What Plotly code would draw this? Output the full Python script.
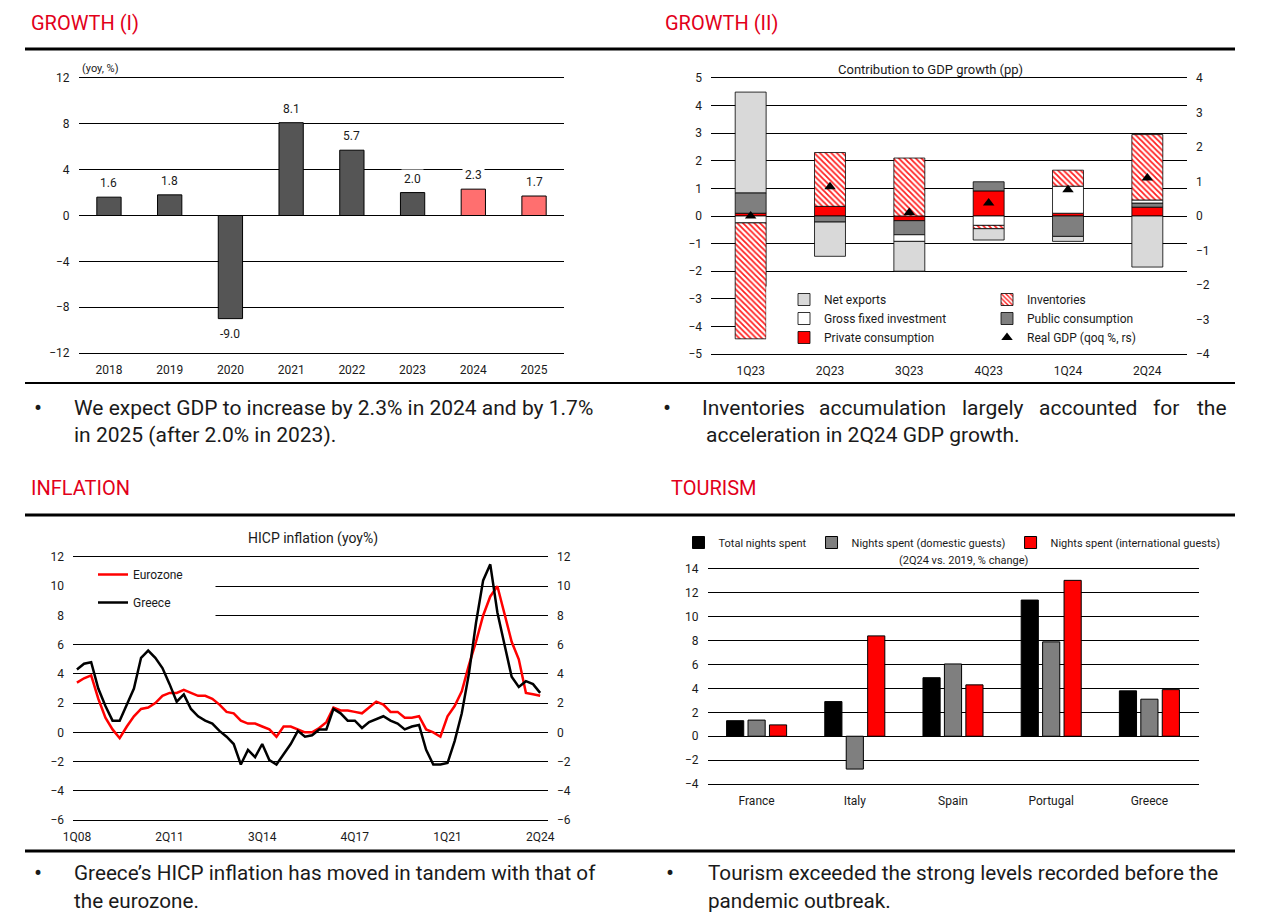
import plotly.graph_objects as go

# ---------------- DATA ----------------
years = ["2018", "2019", "2020", "2021", "2022", "2023", "2024", "2025"]
gdp_growth = [1.6, 1.8, -9.0, 8.1, 5.7, 2.0, 2.3, 1.7]
forecast_years = ["2024", "2025"]

quarters = ["1Q23", "2Q23", "3Q23", "4Q23", "1Q24", "2Q24"]
private_cons = [0.10, 0.35, -0.17, 0.91, 0.10, 0.32]
public_cons = [0.74, -0.22, -0.51, 0.33, -0.74, 0.15]
gross_fixed_inv = [-0.25, None, -0.24, -0.34, 0.98, 0.11]
inventories = [-4.20, 1.95, 2.10, -0.12, 0.58, 2.37]
net_exports = [3.65, -1.24, -1.08, -0.41, -0.18, -1.85]
real_gdp_qoq = [0.0, 0.85, 0.10, 0.38, 0.76, 1.10]

hicp_quarters = [f"{q}Q{yy:02d}" for yy in range(8, 25) for q in range(1, 5)][:66]
hicp_ticks = ["1Q08", "2Q11", "3Q14", "4Q17", "1Q21", "2Q24"]
eurozone_hicp = [3.4, 3.7, 3.9, 2.3, 1.0, 0.2, -0.4, 0.4, 1.1, 1.6,
                 1.7, 2.0, 2.5, 2.7, 2.7, 2.9, 2.7, 2.5, 2.5, 2.3,
                 1.9, 1.4, 1.3, 0.8, 0.6, 0.6, 0.4, 0.2, -0.3, 0.4,
                 0.4, 0.2, 0.0, 0.0, 0.3, 0.7, 1.7, 1.5, 1.5, 1.4,
                 1.3, 1.7, 2.1, 1.9, 1.4, 1.4, 1.0, 1.0, 1.1, 0.2,
                 0.0, -0.3, 1.1, 1.8, 2.8, 4.6, 6.2, 8.0, 9.3, 10.0,
                 8.0, 6.2, 5.0, 2.7, 2.6, 2.5]
greece_hicp = [4.3, 4.7, 4.8, 3.0, 1.8, 0.8, 0.8, 1.9, 3.0, 5.1,
               5.6, 5.1, 4.4, 3.3, 2.1, 2.6, 1.6, 1.1, 0.8, 0.6,
               0.1, -0.3, -0.8, -2.2, -1.2, -1.7, -0.8, -1.9, -2.2, -1.5,
               -0.8, 0.1, -0.3, -0.2, 0.2, 0.2, 1.6, 1.3, 0.8, 0.8,
               0.3, 0.7, 0.9, 1.1, 0.8, 0.6, 0.2, 0.4, 0.5, -1.2,
               -2.2, -2.2, -2.1, -0.6, 1.3, 4.0, 7.5, 10.4, 11.5, 8.2,
               6.0, 3.8, 3.1, 3.5, 3.3, 2.7]

countries = ["France", "Italy", "Spain", "Portugal", "Greece"]
nights_total = [1.3, 2.9, 4.9, 11.4, 3.8]
nights_domestic = [1.35, -2.75, 6.05, 7.9, 3.1]
nights_international = [0.95, 8.4, 4.3, 13.05, 3.9]

# ---------------- HELPERS ----------------
W, H = 1266, 921
FONT = "Roboto, 'Liberation Sans', Arial, sans-serif"
TXT = "#1a1a1a"
HEAD = "#E2001A"


def X(px):
    return px / W


def Y(py):
    return 1 - py / H


def ann(text, px, py, size, color=TXT, xanchor="left", yanchor="middle"):
    return dict(text=text, x=X(px), y=Y(py), xref="paper", yref="paper",
                xanchor=xanchor, yanchor=yanchor, showarrow=False,
                font=dict(size=size, color=color, family=FONT))


fig = go.Figure()

# ---------------- GROWTH (I) ----------------
bar_colors = ["#FF6F6F" if y in forecast_years else "#555555" for y in years]
fig.add_trace(go.Bar(x=years, y=gdp_growth, width=0.4,
                     marker=dict(color=bar_colors, line=dict(color="black", width=1)),
                     showlegend=False, xaxis="x", yaxis="y"))

# ---------------- GROWTH (II) ----------------
components = [
    ("Private consumption", private_cons, dict(color="#FF0000"), "legend2", 3),
    ("Public consumption", public_cons, dict(color="#7F7F7F"), "legend3", 2),
    ("Gross fixed investment", gross_fixed_inv, dict(color="white"), "legend2", 2),
    ("Inventories", inventories,
     dict(color="white", pattern=dict(shape="\\", fgcolor="#FF2020", bgcolor="white",
                                      size=4, solidity=0.45)), "legend3", 1),
    ("Net exports", net_exports, dict(color="#D9D9D9"), "legend2", 1),
]
pos = [0.0] * len(quarters)
neg = [0.0] * len(quarters)
for name, vals, mk, lg, rank in components:
    bases = []
    for i, v in enumerate(vals):
        if v is None:
            bases.append(0.0)
        elif v >= 0:
            bases.append(pos[i])
            pos[i] += v
        else:
            bases.append(neg[i])
            neg[i] += v
    mk = dict(mk)
    mk["line"] = dict(color="black", width=0.8)
    fig.add_trace(go.Bar(x=quarters, y=vals, base=bases, name=name, width=0.39,
                         offsetgroup="contrib", marker=mk, legend=lg, legendrank=rank,
                         xaxis="x2", yaxis="y2"))

fig.add_trace(go.Scatter(x=quarters, y=real_gdp_qoq, mode="markers", name="Real GDP (qoq %, rs)",
                         marker=dict(symbol="triangle-up", size=10, color="black"),
                         legend="legend3", legendrank=3, xaxis="x2", yaxis="y3"))

# ---------------- INFLATION ----------------
fig.add_trace(go.Scatter(x=hicp_quarters, y=eurozone_hicp, mode="lines", name="Eurozone",
                         line=dict(color="#FF0000", width=2.5), legendgroup="ez",
                         legend="legend", xaxis="x3", yaxis="y4"))
fig.add_trace(go.Scatter(x=hicp_quarters, y=greece_hicp, mode="lines", name="Greece",
                         line=dict(color="black", width=2.5), legendgroup="gr",
                         legend="legend", xaxis="x3", yaxis="y4"))
# invisible companion so the right inflation axis renders
fig.add_trace(go.Scatter(x=hicp_quarters, y=greece_hicp, mode="lines", line=dict(width=0),
                         opacity=0, showlegend=False, hoverinfo="skip", xaxis="x3", yaxis="y5"))

# ---------------- TOURISM ----------------
for name, vals, col in [("Total nights spent", nights_total, "#000000"),
                        ("Nights spent (domestic guests)", nights_domestic, "#7F7F7F"),
                        ("Nights spent (international guests)", nights_international, "#FF0000")]:
    fig.add_trace(go.Bar(x=countries, y=vals, name=name,
                         marker=dict(color=col, line=dict(color="black", width=1)),
                         legend="legend4", xaxis="x4", yaxis="y6"))

# ---------------- AXES ----------------
tickf = dict(size=12, color=TXT, family=FONT)
ygrid = dict(showgrid=True, gridcolor="black", gridwidth=1, zeroline=False, showline=False,
             ticks="", tickfont=tickf, ticklabelstandoff=8, fixedrange=True, automargin=False)
# x axes draw the top/bottom boundary lines (the outermost gridlines in the reference)
xcat = dict(type="category", showgrid=False, zeroline=False, showline=True, mirror=True,
            linecolor="black", linewidth=1, ticks="",
            tickfont=tickf, ticklabelstandoff=6, fixedrange=True, automargin=False)
yright = dict(showgrid=False, zeroline=False, showline=False, ticks="", tickfont=tickf,
              ticklabelstandoff=8, fixedrange=True, automargin=False)

layout_axes = dict(
    xaxis=dict(domain=[X(78.6), X(564.4)], anchor="y", range=[-0.5, len(years) - 0.5], **xcat),
    yaxis=dict(domain=[Y(353), Y(78)], anchor="x", range=[-12, 12], dtick=4, tick0=0, **ygrid),
    xaxis2=dict(domain=[X(711), X(1187)], anchor="y2", **xcat),
    yaxis2=dict(domain=[Y(354), Y(78)], anchor="x2", range=[-5, 5], dtick=1, tick0=0, **ygrid),
    yaxis3=dict(overlaying="y2", side="right", anchor="x2", range=[-4, 4], dtick=1, tick0=0,
                **yright),
    xaxis3=dict(domain=[X(73), X(548)], anchor="y4", tickvals=hicp_ticks,
                ticktext=hicp_ticks, range=[-0.55, 66.1], **xcat),
    yaxis4=dict(domain=[Y(820), Y(557)], anchor="x3", range=[-6, 12], dtick=2, tick0=0, **ygrid),
    yaxis5=dict(overlaying="y4", side="right", anchor="x3", range=[-6, 12], dtick=2, tick0=0,
                **yright),
    xaxis4=dict(domain=[X(707.5), X(1198.5)], anchor="y6", **xcat),
    yaxis6=dict(domain=[Y(784), Y(569)], anchor="x4", range=[-4, 14], dtick=2, tick0=0, **ygrid),
)

# ---------------- ANNOTATIONS ----------------
annotations = []
for i, v in enumerate(gdp_growth):
    annotations.append(dict(text=f"{v:.1f}", x=i, y=v, xref="x", yref="y",
                            yshift=14 if v >= 0 else -15, showarrow=False,
                            bgcolor="white", borderpad=2,
                            font=dict(size=12, color=TXT, family=FONT)))

annotations += [
    ann("GROWTH (I)", 29, 23, 20, HEAD),
    ann("GROWTH (II)", 663, 23, 20, HEAD),
    ann("INFLATION", 29, 488, 20, HEAD),
    ann("TOURISM", 669, 488, 20, HEAD),
    ann("(yoy, %)", 80, 68, 11),
    ann("Contribution to GDP growth (pp)", 930, 69, 13, xanchor="center"),
    ann("HICP inflation (yoy%)", 313, 538, 14, xanchor="center"),
    ann("(2Q24 vs. 2019, % change)", 964, 560, 11, xanchor="center"),
    ann("•", 38, 408, 24, xanchor="center"),
    ann("We expect GDP to increase by 2.3% in 2024 and by 1.7%", 72, 408, 21),
    ann("in 2025 (after 2.0% in 2023).", 72, 435, 21),
    ann("•", 667, 408, 24, xanchor="center"),
    ann("acceleration in 2Q24 GDP growth.", 704, 435, 21),
    ann("•", 38, 873, 24, xanchor="center"),
    ann("Greece’s HICP inflation has moved in tandem with that of", 72, 873, 20.7),
    ann("the eurozone.", 72, 901, 20.7),
    ann("•", 670, 873, 24, xanchor="center"),
    ann("Tourism exceeded the strong levels recorded before the", 706, 873, 20.7),
    ann("pandemic outbreak.", 706, 901, 20.7),
]
for word, cx in [("Inventories", 753), ("accumulation", 882), ("largely", 992),
                 ("accounted", 1088), ("for", 1166), ("the", 1212)]:
    annotations.append(ann(word, cx, 408, 21, xanchor="center"))

# ---------------- SHAPES ----------------
shapes = []
for py, wdt in [(49, 3), (383, 2), (515, 3), (851, 3)]:
    shapes.append(dict(type="line", xref="paper", yref="paper", x0=X(25), x1=X(1235),
                       y0=Y(py), y1=Y(py), line=dict(color="black", width=wdt)))
# white legend backgrounds hiding gridlines (regions contain no data marks)
shapes.append(dict(type="rect", xref="x3 domain", yref="y4", x0=0.0, x1=0.30, y0=7.3, y1=10.7,
                   fillcolor="white", line=dict(width=0), layer="above"))
shapes.append(dict(type="rect", xref="x2 domain", yref="y2", x0=0.116, x1=1.0, y0=-4.5, y1=-2.55,
                   fillcolor="white", line=dict(width=0), layer="above"))

legend_font = dict(size=12, color=TXT, family=FONT)
fig.update_layout(
    template="none",
    width=W, height=H, margin=dict(l=0, r=0, t=0, b=0, autoexpand=False), autosize=False,
    paper_bgcolor="white", plot_bgcolor="white",
    font=dict(family=FONT, color=TXT),
    barmode="group", bargap=0.345, bargroupgap=0.2,
    annotations=annotations, shapes=shapes,
    legend=dict(x=X(93), y=Y(560), xanchor="left", yanchor="top", bgcolor="rgba(0,0,0,0)",
                font=legend_font, tracegroupgap=9, itemwidth=30, borderwidth=0),
    legend2=dict(x=X(784), y=Y(285), xanchor="left", yanchor="top", bgcolor="rgba(0,0,0,0)",
                 font=legend_font, itemwidth=30, tracegroupgap=0, borderwidth=0),
    legend3=dict(x=X(987), y=Y(285), xanchor="left", yanchor="top", bgcolor="rgba(0,0,0,0)",
                 font=legend_font, itemwidth=30, tracegroupgap=0, borderwidth=0),
    legend4=dict(x=X(952), y=Y(528), xanchor="center", yanchor="top", orientation="h",
                 bgcolor="rgba(0,0,0,0)", font=dict(size=11, color=TXT, family=FONT),
                 itemwidth=30, borderwidth=0),
    hovermode=False,
    **layout_axes,
)

fig.write_html("out.html", include_plotlyjs=True, full_html=True,
               config={"displayModeBar": False},
               post_script="document.body.style.margin='0';document.body.style.overflow='hidden';")
